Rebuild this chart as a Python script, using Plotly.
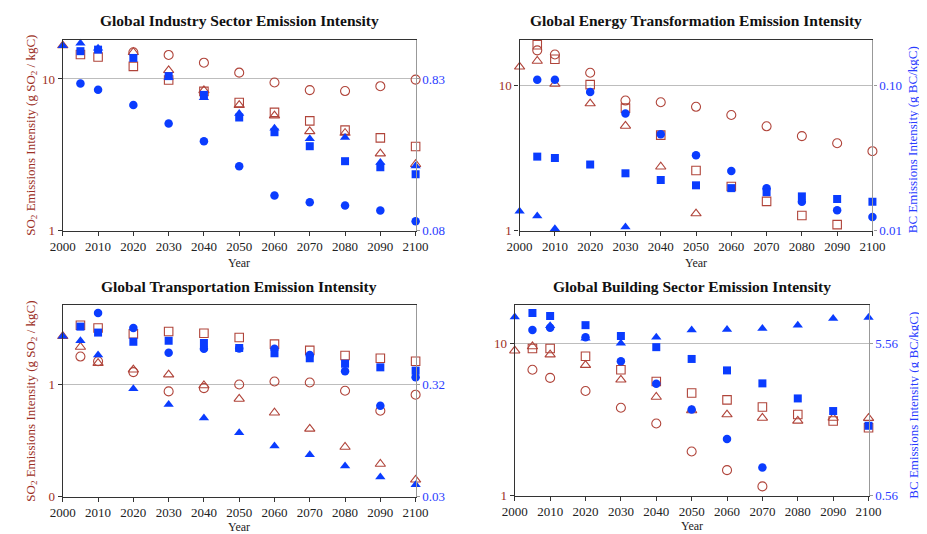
import math
import plotly.graph_objects as go

YEARS = [2000, 2005, 2010, 2020, 2030, 2040, 2050, 2060, 2070, 2080, 2090, 2100]

# ---- Industry (SO2 left axis, BC right axis) ----
ind_so2_circle = [None, None, None, 15.0, 14.4, 12.8, 11.0, 9.47, 8.44, 8.32, 8.96, 9.90]
ind_so2_square = [None, 14.5, 13.95, 12.1, 9.85, 8.28, 6.99, 6.02, 5.29, 4.60, 4.09, 3.59]
ind_so2_tri = [16.6, None, None, 15.0, 11.4, 8.40, 6.72, 5.73, 4.51, 4.40, 3.22, 2.74]
ind_bc_circle = [None, 0.778, 0.708, 0.560, 0.424, 0.323, 0.221, 0.142, 0.128, 0.122, 0.113, 0.096]
ind_bc_square = [None, 1.27, 1.30, 1.146, 0.87, 0.654, 0.464, 0.371, 0.300, 0.239, 0.218, 0.196]
ind_bc_tri = [1.38, 1.43, 1.33, None, 0.85, 0.625, 0.493, 0.394, 0.336, 0.343, 0.234, 0.222]

# ---- Energy transformation ----
ene_so2_circle = [None, 17.4, 16.3, 12.2, 7.85, 7.64, 7.11, 6.25, 5.22, 4.47, 3.99, 3.52]
ene_so2_square = [None, 19.0, 15.1, 10.1, 6.97, 4.54, 2.59, 2.01, 1.59, 1.27, 1.10, None]
ene_so2_tri = [13.4, 14.7, 10.2, 7.49, 5.25, 2.75, 1.31, None, None, None, None, None]
ene_bc_circle = [None, 0.109, 0.109, 0.090, 0.064, 0.046, 0.033, 0.0257, 0.0196, 0.0158, 0.0138, 0.0124]
ene_bc_square = [None, 0.0323, 0.0316, 0.0285, 0.0248, 0.0223, 0.0205, 0.0196, 0.0184, 0.0172, 0.0165, 0.0158]
ene_bc_tri = [0.0136, 0.0126, 0.0103, None, 0.0106, None, None, None, None, None, None, None]

# ---- Transportation ----
tra_so2_circle = [None, 1.76, 1.60, 1.28, 0.862, 0.922, 0.993, 1.055, 1.034, 0.874, 0.58, 0.806]
tra_so2_square = [None, 3.34, 3.16, 2.80, 2.94, 2.84, 2.60, 2.27, 2.00, 1.80, 1.70, 1.60]
tra_so2_tri = [2.67, 2.14, 1.54, 1.345, 1.216, 0.973, 0.739, 0.557, 0.40, 0.276, 0.195, 0.141]
tra_bc_circle = [None, None, 1.36, 1.0, 0.60, 0.654, 0.657, 0.654, 0.575, 0.411, 0.203, 0.364]
tra_bc_square = [None, 1.027, 0.909, 0.753, 0.769, 0.734, 0.663, 0.595, 0.537, 0.480, 0.446, 0.417]
tra_bc_tri = [0.844, 0.769, 0.575, 0.288, 0.208, 0.158, 0.117, 0.089, 0.0743, 0.059, 0.0473, 0.0403]

# ---- Building ----
bld_so2_circle = [None, 6.72, 5.94, 4.87, 3.78, 2.98, 1.95, 1.47, 1.149, None, None, None]
bld_so2_square = [None, 9.28, 9.28, 8.24, 6.72, 5.62, 4.73, 4.26, 3.82, 3.41, 3.09, 2.79]
bld_so2_tri = [8.97, 9.56, 8.45, 7.21, 5.77, 4.45, 3.63, 3.41, 3.24, 3.10, 3.24, 3.23]
bld_bc_circle = [None, 6.82, 7.06, 6.11, 4.25, 3.02, 2.05, 1.31, 0.852, None, None, None]
bld_bc_square = [None, 8.82, 8.43, 7.34, 6.23, 5.26, 4.40, 3.70, 3.04, 2.42, 2.00, 1.60]
bld_bc_tri = [8.31, None, 7.27, 6.02, 5.59, 6.11, 6.82, 6.88, 6.99, 7.34, 8.11, 8.23]

PANEL_TITLES = ["Global Industry Sector Emission Intensity",
                "Global Energy Transformation Emission Intensity",
                "Global Transportation Emission Intensity",
                "Global Building Sector Emission Intensity"]
X_TICKS = [2000, 2010, 2020, 2030, 2040, 2050, 2060, 2070, 2080, 2090, 2100]
LEFT_TICKVALS = [[1, 10], [1, 10], [0.1, 1], [1, 10]]
LEFT_TICKTEXT = [["1", "10"], ["1", "10"], ["0", "1"], ["1", "10"]]
BC_RATIO = [0.0833, 0.01, 0.316, 0.556]   # BC units per SO2 unit on the twin axes
RIGHT_TICKTEXT = [["0.08", "0.83"], ["0.01", "0.10"], ["0.03", "0.32"], ["0.56", "5.56"]]
LEFT_RANGE = [[0, 1.26], [0, 1.315], [-1, 0.70], [0, 1.25]]

panels = [
    (ind_so2_circle, ind_so2_square, ind_so2_tri, ind_bc_circle, ind_bc_square, ind_bc_tri),
    (ene_so2_circle, ene_so2_square, ene_so2_tri, ene_bc_circle, ene_bc_square, ene_bc_tri),
    (tra_so2_circle, tra_so2_square, tra_so2_tri, tra_bc_circle, tra_bc_square, tra_bc_tri),
    (bld_so2_circle, bld_so2_square, bld_so2_tri, bld_bc_circle, bld_bc_square, bld_bc_tri),
]

W, H = 927, 534
# plot-area pixel boxes (x0, x1, ytop, ybottom)
BOXES = [(43, 406, 32, 226), (513, 876, 32, 226), (43, 406, 302, 496), (508, 872, 302, 495)]
YEAR_OFFSET = [33, 33, 31, 31]

RED = "#b0443a"
RED_TXT = "#9c2f25"
BLUE = "#0a3cff"
BLUE_TXT = "#2a3cff"
FONT = "Liberation Serif"

fig = go.Figure()
layout = dict(
    width=W, height=H, margin=dict(l=0, r=0, t=0, b=0),
    paper_bgcolor="white", plot_bgcolor="white", showlegend=False,
    font=dict(family=FONT, size=13, color="#222"),
)
annotations = []

for i, (sc, ss, st, bc, bs, bt) in enumerate(panels):
    n = i + 1
    xa = "x" if n == 1 else f"x{n}"
    yl_idx = 2 * i + 1
    yr_idx = 2 * i + 2
    yl = "y" if yl_idx == 1 else f"y{yl_idx}"
    yr = f"y{yr_idx}"
    x0, x1, yt, yb = BOXES[i]
    xdom = [x0 / W, x1 / W]
    ydom = [1 - yb / H, 1 - yt / H]
    r = BC_RATIO[i]
    lr = LEFT_RANGE[i]
    rr = [lr[0] + math.log10(r), lr[1] + math.log10(r)]

    layout["xaxis" if n == 1 else f"xaxis{n}"] = dict(
        domain=xdom, anchor=yl, range=[2000, 2100], tickvals=X_TICKS,
        showgrid=False, zeroline=False, showline=True, linecolor="#333", linewidth=1.3,
        mirror=True, ticks="outside", ticklen=4, tickcolor="#333",
        tickfont=dict(family=FONT, size=13, color="#222"),
    )
    layout["yaxis" if yl_idx == 1 else f"yaxis{yl_idx}"] = dict(
        domain=ydom, anchor=xa, type="log", range=lr,
        tickvals=LEFT_TICKVALS[i], ticktext=LEFT_TICKTEXT[i],
        showgrid=True, gridcolor="#bdbdbd", gridwidth=1, zeroline=False,
        showline=True, linecolor="#333", linewidth=1.3,
        ticks="outside", ticklen=4, tickcolor="#333",
        tickfont=dict(family=FONT, size=13, color=RED_TXT),
    )
    layout[f"yaxis{yr_idx}"] = dict(
        overlaying=yl, anchor=xa, side="right", type="log", range=rr,
        tickvals=[r * v for v in LEFT_TICKVALS[i]], ticktext=RIGHT_TICKTEXT[i],
        showgrid=False, zeroline=False, showline=True, linecolor="#999", linewidth=1.3,
        ticks="outside", ticklen=3, tickcolor="#999",
        tickfont=dict(family=FONT, size=13, color=BLUE_TXT),
    )

    # SO2 (open red) drawn first, BC (filled blue) on top
    for vals, sym, sz in [(sc, "circle-open", 9), (ss, "square-open", 8.5), (st, "triangle-up-open", 9)]:
        fig.add_trace(go.Scatter(
            x=YEARS, y=vals, mode="markers", xaxis=xa, yaxis=yl, cliponaxis=False,
            marker=dict(symbol=sym, size=sz, color=RED, line=dict(width=1.1, color=RED)),
        ))
    for vals, sym, sz in [(bc, "circle", 8.5), (bs, "square", 8), (bt, "triangle-up", 9)]:
        fig.add_trace(go.Scatter(
            x=YEARS, y=vals, mode="markers", xaxis=xa, yaxis=yr, cliponaxis=False,
            marker=dict(symbol=sym, size=sz, color=BLUE, line=dict(width=0)),
        ))

    # panel title
    annotations.append(dict(
        text=f"<b>{PANEL_TITLES[i]}</b>", x=(x0 + x1) / 2 / W, y=1 - (yt - 19) / H,
        xref="paper", yref="paper", xanchor="center", yanchor="middle", showarrow=False,
        font=dict(family=FONT, size=15.5, color="#111"),
    ))
    # x axis title
    annotations.append(dict(
        text="Year", x=(x0 + x1) / 2 / W, y=1 - (yb + YEAR_OFFSET[i]) / H,
        xref="paper", yref="paper", xanchor="center", yanchor="middle", showarrow=False,
        font=dict(family=FONT, size=12, color="#222"),
    ))

# side axis titles
so2_title = "SO<sub>2</sub> Emissions Intensity (g SO<sub>2</sub> / kgC)"
bc_title = "BC Emissions Intensity (g BC/kgC)"
for (x0, x1, yt, yb) in [BOXES[0], BOXES[2]]:
    annotations.append(dict(
        text=so2_title, x=10 / W, y=1 - ((yt + yb) / 2) / H, xref="paper", yref="paper",
        xanchor="center", yanchor="middle", textangle=-90, showarrow=False,
        font=dict(family=FONT, size=13, color=RED_TXT),
    ))
for (x0, x1, yt, yb) in [BOXES[1], BOXES[3]]:
    annotations.append(dict(
        text=bc_title, x=918 / W, y=1 - ((yt + yb) / 2 + 5) / H, xref="paper", yref="paper",
        xanchor="center", yanchor="middle", textangle=-90, showarrow=False,
        font=dict(family=FONT, size=13, color=BLUE_TXT),
    ))

layout["annotations"] = annotations
fig.update_layout(**layout)
fig.write_html("out.html")
